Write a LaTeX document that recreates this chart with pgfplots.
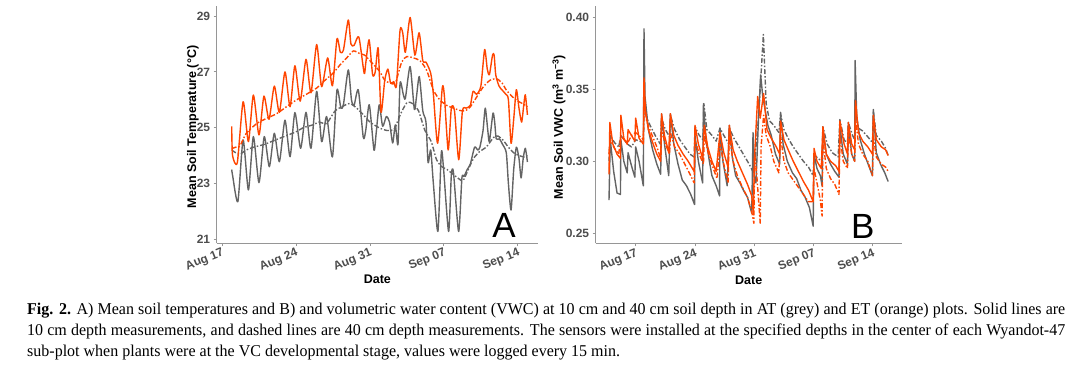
\documentclass[border=0pt]{standalone}
\usepackage{pgfplots}
\pgfplotsset{compat=1.18}
\usepackage{fontspec}
\setmainfont{Liberation Sans}
\newfontfamily\capfont[FakeStretch=0.97]{Liberation Serif}
\definecolor{atgray}{RGB}{100,100,100}
\definecolor{etorange}{RGB}{255,69,0}
\definecolor{tickgray}{RGB}{77,77,77}
\definecolor{axgray}{RGB}{150,150,150}
\pgfplotsset{
  panel/.style={
    scale only axis, anchor=south west,
    axis lines*=left, axis line style={draw=axgray, line width=0.9pt, -},
    tick align=outside, major tick length=3pt,
    tick style={draw=axgray, line width=0.9pt},
    xtick={0,7,14,21,28}, xticklabels={Aug 17,Aug 24,Aug 31,Sep 07,Sep 14},
    xticklabel style={rotate=22, anchor=north east, inner sep=1pt},
    tick label style={font=\bfseries\fontsize{12}{14}\selectfont, text=tickgray},
    label style={font=\bfseries\fontsize{12.5}{15}\selectfont, text=black},
    xlabel={Date},
    /pgf/number format/assume math mode=true,
  },
  sol/.style={line width=1.4pt, line join=round},
  das/.style={line width=1.4pt, line join=round, dash pattern=on 5pt off 2pt on 1.5pt off 2pt},
}
\begin{document}
\begin{tikzpicture}[x=1pt,y=1pt]
\path[use as bounding box] (0,0) rectangle (1080,365);
% ---------------- Panel A ----------------
\begin{axis}[panel,
  at={(216.7pt,122pt)}, width=321.3pt, height=237pt,
  xmin=-0.5, xmax=29.9, ymin=20.867, ymax=29.36,
  ytick={21,23,25,27,29}, yticklabels={21,23,25,27,29},
  ylabel={Mean Soil Temperature (°C)},
  ylabel style={at={(axis description cs:-0.0738,0.49)}, anchor=center},
  xlabel style={at={(axis description cs:0.5,-0.152)}, anchor=center},
]
% AT 10 cm (grey solid)
\addplot[sol, atgray, smooth, tension=0.4] coordinates {
(0.92,23.5)(1.0,23.3)(1.5,22.35)(2.0,24.56)(2.5,22.77)(2.97,24.68)(3.5,23.03)(4.0,24.68)
(4.48,23.6)(4.95,24.8)(5.43,23.78)(5.96,25.27)(6.44,23.96)(6.9,25.54)(7.44,24.26)(7.95,25.55)
(8.42,24.26)(8.96,26.3)(9.43,24.5)(9.9,25.4)(10.45,23.95)(10.88,26.35)(11.25,25.7)(11.5,25.85)
(11.95,27.07)(12.25,26.0)(12.5,25.8)(12.9,26.35)(13.37,24.65)(13.6,24.9)(13.94,25.82)(14.38,24.2)
(14.6,24.85)(14.88,25.82)(15.2,25.05)(15.55,25.4)(15.85,25.2)(16.15,24.45)(16.4,25.1)(16.65,24.4)
(16.85,26.6)(17.15,26.2)(17.35,26.05)(17.8,27.19)(18.2,25.65)(18.4,26.1)(18.67,26.83)(19.0,25.6)
(19.3,25.2)(19.5,23.75)(19.75,24.2)(20.0,23.0)(20.43,21.28)(20.75,24.1)(20.95,23.6)(21.44,21.28)
(21.7,23.3)(21.9,23.4)(22.39,21.28)(22.7,23.2)(22.9,23.25)(23.2,23.5)(23.5,23.7)(23.9,24.3)
(24.2,24.2)(24.4,24.3)(24.7,24.9)(24.91,25.7)(25.15,24.9)(25.3,24.5)(25.64,25.52)(25.8,25.2)
(25.95,24.6)(26.25,24.6)(26.55,24.4)(26.9,24.1)(27.1,23.0)(27.35,22.05)(27.6,23.5)(27.85,24.3)
(28.1,23.9)(28.3,23.2)(28.5,23.9)(28.7,24.26)(28.9,23.77)};
% AT 40 cm (grey dashed)
\addplot[das, atgray, smooth, tension=0.4] coordinates {
(0.92,24.2)(1.3,24.1)(1.7,24.05)(2.3,24.2)(3.0,24.3)(4.0,24.4)(5.0,24.55)(6.0,24.7)
(7.0,24.85)(7.7,25.0)(8.6,25.1)(9.2,25.2)(9.9,25.15)(10.7,25.6)(11.5,25.78)(12.1,25.87)
(12.75,25.7)(13.4,25.45)(14.0,25.2)(14.95,24.98)(15.6,24.9)(16.3,24.95)(16.85,25.45)(17.5,25.9)
(18.1,25.85)(18.6,25.6)(19.2,24.9)(19.8,24.5)(20.3,23.85)(20.8,23.6)(21.3,23.5)(21.8,23.35)
(22.3,23.2)(22.8,23.1)(23.3,23.5)(23.8,23.9)(24.4,24.15)(25.0,24.3)(25.7,24.65)(26.1,24.7)
(26.6,24.55)(27.1,24.3)(27.6,24.1)(28.1,24.0)(28.6,23.95)(28.9,24.0)};
% ET 40 cm (orange dashed)
\addplot[das, etorange, smooth, tension=0.4] coordinates {
(0.92,24.25)(1.3,24.3)(1.7,24.35)(2.3,24.8)(3.3,25.15)(4.2,25.33)(5.17,25.5)(6.1,25.75)
(7.07,26.0)(8.0,26.2)(8.96,26.42)(9.6,26.65)(10.5,26.95)(11.17,27.25)(11.8,27.5)(12.43,27.75)
(13.06,27.65)(13.5,27.6)(14.0,27.4)(14.5,27.2)(14.95,27.0)(15.4,26.7)(15.9,26.6)(16.4,26.6)
(17.0,27.35)(17.5,27.55)(18.1,27.5)(18.74,27.4)(19.37,27.05)(20.0,26.35)(20.6,26.0)(21.26,25.8)
(21.9,25.7)(22.5,25.62)(23.0,25.6)(23.5,25.75)(24.1,26.1)(24.7,26.45)(25.36,26.7)(26.0,26.75)
(26.5,26.6)(26.9,26.35)(27.5,26.1)(28.0,25.95)(28.5,25.85)(28.9,25.75)};
% ET 10 cm (orange solid)
\addplot[sol, etorange, smooth, tension=0.4] coordinates {
(0.92,25.05)(1.0,24.0)(1.45,23.75)(2.0,25.93)(2.5,24.5)(2.97,26.17)(3.5,24.74)(3.97,26.13)
(4.45,25.3)(4.95,26.49)(5.43,25.55)(5.96,27.0)(6.44,25.75)(6.9,27.22)(7.4,25.95)(7.95,27.45)
(8.42,26.25)(8.96,27.98)(9.43,26.47)(10.0,27.5)(10.45,26.5)(10.88,28.18)(11.2,27.7)(11.5,27.8)
(11.95,28.86)(12.2,28.0)(12.5,27.95)(12.95,28.25)(13.45,26.95)(13.6,27.3)(13.92,28.15)(14.25,26.9)
(14.5,27.0)(14.78,27.85)(15.05,25.55)(15.4,26.7)(15.7,27.1)(15.95,26.6)(16.25,26.65)(16.5,26.5)
(16.85,28.5)(17.1,28.4)(17.35,27.7)(17.8,28.95)(18.25,27.6)(18.65,28.4)(19.0,27.4)(19.3,27.35)
(19.75,26.95)(20.0,26.2)(20.4,24.44)(20.85,26.45)(21.05,26.1)(21.4,24.2)(21.7,25.7)(22.0,25.6)
(22.4,23.85)(22.75,25.6)(23.1,25.7)(23.5,25.8)(23.75,26.3)(24.1,26.2)(24.5,26.5)(24.85,27.8)
(25.1,27.1)(25.3,26.9)(25.6,27.6)(25.75,27.6)(25.9,26.9)(26.2,26.5)(26.5,26.35)(26.85,26.2)
(27.1,26.0)(27.35,24.44)(27.6,25.3)(27.85,26.36)(28.1,25.7)(28.35,25.2)(28.55,25.8)(28.7,26.18)
(28.9,25.46)};
\node[font=\fontsize{35}{35}\selectfont] at (rel axis cs:0.894,0.072) {A};
\end{axis}
% ---------------- Panel B ----------------
\begin{axis}[panel,
  at={(595.7pt,121.7pt)}, width=306pt, height=237.3pt,
  xmin=-4.72, xmax=31.4, ymin=0.2431, ymax=0.4078,
  ytick={0.25,0.30,0.35,0.40}, yticklabels={0.25,0.30,0.35,0.40},
  ylabel={Mean Soil VWC (m\textsuperscript{3} m\textsuperscript{−3})},
  ylabel style={at={(axis description cs:-0.12,0.49)}, anchor=center},
  xlabel style={at={(axis description cs:0.5,-0.155)}, anchor=center},
]
% AT 10 cm (grey solid)
\addplot[sol, atgray] coordinates {
(-3.15,0.273)(-3.0,0.315)(-2.6,0.293)(-2.2,0.278)(-1.8,0.277)(-1.75,0.315)(-1.4,0.300)(-1.0,0.292)
(-0.9,0.306)(-0.5,0.297)(-0.1,0.289)(0.0,0.310)(0.4,0.300)(0.9,0.283)(0.98,0.392)(1.1,0.345)
(1.5,0.322)(2.0,0.308)(2.5,0.298)(2.95,0.291)(3.05,0.333)(3.4,0.312)(3.9,0.290)(4.1,0.333)
(4.5,0.312)(5.0,0.298)(5.5,0.287)(6.0,0.283)(6.5,0.277)(6.95,0.270)(7.0,0.318)(7.4,0.300)
(7.9,0.285)(8.0,0.340)(8.3,0.315)(8.7,0.300)(9.0,0.290)(9.5,0.283)(9.9,0.276)(9.95,0.323)
(10.3,0.300)(10.8,0.283)(11.05,0.325)(11.4,0.303)(11.8,0.290)(12.3,0.285)(12.8,0.279)(13.2,0.275)
(13.7,0.264)(13.85,0.320)(14.0,0.290)(14.2,0.285)(14.5,0.330)(14.75,0.360)(15.0,0.345)(15.3,0.335)
(15.6,0.325)(16.0,0.318)(16.5,0.305)(17.0,0.298)(17.1,0.334)(17.4,0.312)(17.9,0.300)(18.5,0.292)
(19.0,0.288)(19.5,0.280)(20.0,0.275)(20.5,0.268)(20.95,0.255)(21.05,0.305)(21.4,0.295)(21.8,0.290)
(22.0,0.283)(22.1,0.322)(22.5,0.305)(23.0,0.298)(23.5,0.293)(24.0,0.289)(24.1,0.325)(24.5,0.305)
(25.0,0.298)(25.1,0.325)(25.5,0.305)(25.85,0.300)(25.9,0.370)(26.1,0.330)(26.5,0.315)(27.0,0.305)
(27.5,0.297)(27.95,0.290)(28.05,0.336)(28.4,0.306)(28.9,0.298)(29.4,0.292)(29.8,0.286)};
% AT 40 cm (grey dashed)
\addplot[das, atgray] coordinates {
(-3.15,0.300)(-3.0,0.318)(-2.5,0.313)(-2.0,0.310)(-1.75,0.318)(-1.0,0.312)(-0.5,0.310)(0.0,0.315)
(0.9,0.313)(1.0,0.345)(1.3,0.330)(1.7,0.325)(2.3,0.318)(2.9,0.312)(3.05,0.330)(3.5,0.322)
(4.0,0.317)(4.1,0.332)(4.6,0.322)(5.2,0.315)(5.8,0.310)(6.4,0.305)(6.9,0.303)(7.0,0.324)
(7.5,0.318)(7.95,0.315)(8.05,0.340)(8.4,0.322)(9.0,0.318)(9.5,0.314)(9.95,0.323)(10.4,0.318)
(11.0,0.312)(11.05,0.323)(11.6,0.316)(12.2,0.310)(12.8,0.304)(13.4,0.298)(13.9,0.292)(14.0,0.297)
(14.5,0.330)(15.07,0.388)(15.4,0.340)(15.8,0.328)(16.3,0.325)(16.9,0.320)(17.1,0.333)(17.5,0.322)
(18.0,0.316)(18.6,0.310)(19.2,0.305)(19.8,0.300)(20.4,0.296)(20.95,0.290)(21.05,0.305)(21.5,0.302)
(22.0,0.300)(22.1,0.324)(22.6,0.312)(23.2,0.306)(23.9,0.303)(24.1,0.329)(24.6,0.315)(25.0,0.312)
(25.1,0.327)(25.6,0.318)(25.85,0.315)(25.95,0.335)(26.3,0.323)(26.8,0.321)(27.4,0.317)(27.95,0.313)
(28.05,0.335)(28.4,0.318)(29.0,0.314)(29.5,0.309)(29.8,0.304)};
% ET 40 cm (orange dashed)
\addplot[das, etorange] coordinates {
(-3.15,0.305)(-3.0,0.315)(-2.5,0.309)(-2.0,0.305)(-1.75,0.318)(-1.0,0.312)(-0.5,0.318)(0.0,0.320)
(0.9,0.315)(1.0,0.342)(1.3,0.328)(1.8,0.320)(2.5,0.310)(2.95,0.302)(3.05,0.322)(3.5,0.312)
(4.0,0.305)(4.1,0.320)(4.6,0.310)(5.2,0.305)(5.8,0.298)(6.5,0.290)(6.9,0.285)(7.0,0.315)
(7.5,0.305)(8.0,0.298)(8.1,0.318)(8.6,0.305)(9.1,0.296)(9.6,0.288)(9.95,0.312)(10.4,0.298)
(10.9,0.285)(11.05,0.318)(11.5,0.300)(12.0,0.290)(12.6,0.282)(13.2,0.275)(13.7,0.265)(13.95,0.257)
(14.05,0.305)(14.3,0.290)(14.7,0.257)(14.8,0.310)(15.1,0.332)(15.4,0.318)(15.9,0.310)(16.3,0.300)
(16.9,0.292)(17.1,0.318)(17.5,0.300)(18.0,0.292)(18.6,0.287)(19.2,0.282)(19.8,0.277)(20.4,0.272)
(20.95,0.272)(21.05,0.295)(21.4,0.285)(21.8,0.273)(22.0,0.262)(22.1,0.315)(22.5,0.295)(23.0,0.288)
(23.5,0.284)(24.0,0.277)(24.1,0.318)(24.5,0.300)(25.0,0.295)(25.1,0.320)(25.5,0.305)(25.85,0.300)
(25.95,0.330)(26.3,0.312)(26.8,0.305)(27.4,0.300)(27.95,0.290)(28.05,0.318)(28.4,0.303)(29.0,0.298)
(29.5,0.296)(29.8,0.293)};
% ET 10 cm (orange solid)
\addplot[sol, etorange] coordinates {
(-3.15,0.291)(-3.05,0.327)(-2.7,0.312)(-2.2,0.305)(-1.8,0.302)(-1.75,0.332)(-1.4,0.316)(-1.0,0.312)
(-0.9,0.322)(-0.5,0.318)(-0.1,0.314)(0.0,0.330)(0.4,0.316)(0.9,0.312)(0.98,0.358)(1.15,0.335)
(1.5,0.322)(2.0,0.313)(2.5,0.305)(2.95,0.300)(3.05,0.333)(3.4,0.318)(3.9,0.306)(4.1,0.333)
(4.5,0.318)(5.0,0.311)(5.6,0.305)(6.2,0.300)(6.9,0.293)(7.0,0.325)(7.4,0.312)(7.9,0.302)
(8.1,0.325)(8.5,0.310)(9.0,0.300)(9.5,0.293)(9.95,0.320)(10.4,0.306)(10.9,0.296)(11.05,0.325)
(11.5,0.308)(12.0,0.300)(12.6,0.292)(13.2,0.284)(13.7,0.276)(13.9,0.263)(14.0,0.300)(14.4,0.345)
(14.7,0.330)(15.1,0.347)(15.5,0.322)(16.0,0.316)(16.6,0.310)(17.0,0.305)(17.1,0.328)(17.5,0.315)
(18.0,0.308)(18.6,0.300)(19.2,0.293)(19.8,0.286)(20.4,0.280)(20.95,0.272)(21.05,0.309)(21.4,0.300)
(21.9,0.295)(22.1,0.324)(22.5,0.305)(23.0,0.300)(23.6,0.297)(24.0,0.293)(24.1,0.328)(24.6,0.312)
(25.0,0.305)(25.1,0.327)(25.5,0.312)(25.85,0.308)(25.95,0.342)(26.3,0.320)(26.8,0.314)(27.4,0.310)
(27.95,0.305)(28.05,0.332)(28.4,0.315)(29.0,0.310)(29.5,0.308)(29.8,0.304)};
\node[font=\fontsize{35}{35}\selectfont] at (rel axis cs:0.8725,0.07) {B};
\end{axis}
% ---------------- Caption ----------------
\node[anchor=base west, inner sep=0pt] at (27,51) {\capfont\fontsize{16.5}{19}\selectfont\hbox to 1038pt{\textbf{Fig. 2.} A) Mean soil temperatures and B) and volumetric water content (VWC) at 10 cm and 40 cm soil depth in AT (grey) and ET (orange) plots. Solid lines are}};
\node[anchor=base west, inner sep=0pt] at (27,30) {\capfont\fontsize{16.5}{19}\selectfont\hbox to 1038pt{10 cm depth measurements, and dashed lines are 40 cm depth measurements. The sensors were installed at the specified depths in the center of each Wyandot-47}};
\node[anchor=base west, inner sep=0pt] at (27,9) {\capfont\fontsize{16.5}{19}\selectfont sub-plot when plants were at the VC developmental stage, values were logged every 15 min.};
\end{tikzpicture}
\end{document}
